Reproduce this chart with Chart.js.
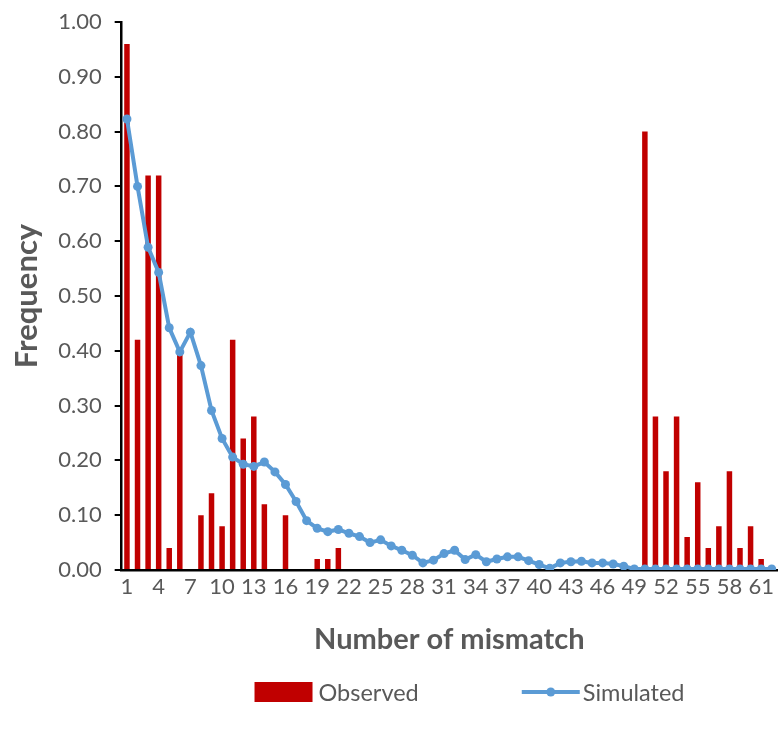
<!DOCTYPE html>
<html>
<head>
<meta charset="utf-8">
<script src="https://cdn.jsdelivr.net/npm/chart.js@4.4.1/dist/chart.umd.min.js"></script>
<style>
  html, body { margin: 0; padding: 0; background: #fff; }
  #wrap { width: 783px; height: 740px; }
</style>
</head>
<body>
<div id="wrap"><canvas id="myChart"></canvas></div>
<script>
// mismatch counts 1..62
var mismatch = [];
for (var i = 1; i <= 62; i++) mismatch.push(String(i));

var observed = [
  0.96, 0.42, 0.72, 0.72, 0.04, 0.40, 0, 0.10, 0.14, 0.08,
  0.42, 0.24, 0.28, 0.12, 0, 0.10, 0, 0, 0.02, 0.02,
  0.04, 0, 0, 0, 0, 0, 0, 0, 0, 0,
  0, 0, 0, 0, 0, 0, 0, 0, 0, 0,
  0, 0, 0, 0, 0, 0, 0, 0, 0, 0.80,
  0.28, 0.18, 0.28, 0.06, 0.16, 0.04, 0.08, 0.18, 0.04, 0.08,
  0.02, 0
];

var simulated = [
  0.823, 0.700, 0.589, 0.543, 0.442, 0.398, 0.434, 0.373, 0.291, 0.240,
  0.206, 0.193, 0.189, 0.197, 0.179, 0.156, 0.125, 0.090, 0.076, 0.070,
  0.074, 0.067, 0.061, 0.050, 0.055, 0.044, 0.036, 0.027, 0.013, 0.018,
  0.030, 0.036, 0.019, 0.028, 0.015, 0.020, 0.024, 0.024, 0.017, 0.010,
  0.003, 0.013, 0.015, 0.016, 0.013, 0.013, 0.011, 0.007, 0.002, 0.002,
  0.002, 0.002, 0.002, 0.002, 0.002, 0.002, 0.002, 0.002, 0.002, 0.002,
  0.002, 0.002
];

var yTicks = [0, 0.1, 0.2, 0.3, 0.4, 0.5, 0.6, 0.7, 0.8, 0.9, 1.0];

var red = '#C00000';
var blue = '#5B9BD5';
var grey = '#595959';
var fontFam = 'Lato, "Open Sans", sans-serif';

// legend drawn by hand so the line entry gets its dot
var bottomLegend = {
  id: 'bottomLegend',
  afterDraw: function (chart) {
    var ctx = chart.ctx;
    var items = [
      { text: 'Observed', type: 'bar', gap: 6 },
      { text: 'Simulated', type: 'line', gap: 3 }
    ];
    var boxW = 58, gapItem = 103;
    ctx.save();
    ctx.font = '23.5px ' + fontFam;
    var total = 0;
    items.forEach(function (it, k) {
      it.w = ctx.measureText(it.text).width;
      total += boxW + it.gap + it.w + (k > 0 ? gapItem : 0);
    });
    var x = chart.width / 2 + 78 - total / 2;
    var y = chart.height - 48;
    items.forEach(function (it, k) {
      if (k > 0) x += gapItem;
      if (it.type === 'bar') {
        ctx.fillStyle = red;
        ctx.fillRect(x, y - 10, boxW, 20);
      } else {
        ctx.strokeStyle = blue;
        ctx.lineWidth = 4;
        ctx.beginPath();
        ctx.moveTo(x, y);
        ctx.lineTo(x + boxW, y);
        ctx.stroke();
        ctx.fillStyle = blue;
        ctx.beginPath();
        ctx.arc(x + boxW / 2, y, 4.5, 0, Math.PI * 2);
        ctx.fill();
      }
      x += boxW + it.gap;
      ctx.fillStyle = grey;
      ctx.textBaseline = 'middle';
      ctx.fillText(it.text, x, y + 1);
      x += it.w;
    });
    ctx.restore();
  }
};

var config = {
  data: {
    labels: mismatch,
    datasets: [
      {
        type: 'bar',
        label: 'Observed',
        data: observed,
        backgroundColor: red,
        barPercentage: 0.52,
        categoryPercentage: 1.0,
        order: 2
      },
      {
        type: 'line',
        label: 'Simulated',
        data: simulated,
        borderColor: blue,
        backgroundColor: blue,
        borderWidth: 4,
        pointRadius: 4.5,
        pointHoverRadius: 4.5,
        pointBackgroundColor: blue,
        pointBorderWidth: 0,
        tension: 0,
        order: 1
      }
    ]
  },
  options: {
    responsive: true,
    maintainAspectRatio: false,
    animation: false,
    layout: { padding: { top: 0, right: 6, left: 8, bottom: 83 } },
    plugins: {
      legend: { display: false },
      tooltip: { enabled: false }
    },
    scales: {
      x: {
        offset: true,
        grid: { display: false, drawTicks: false },
        border: { display: true, color: '#000', width: 2.5 },
        afterFit: function (axis) { axis.height = 87; },
        ticks: {
          autoSkip: false,
          maxRotation: 0,
          minRotation: 0,
          padding: 4,
          color: grey,
          font: { family: fontFam, size: 22 },
          callback: function (val, idx) {
            return idx % 3 === 0 ? mismatch[idx] : '';
          }
        },
        title: {
          display: true,
          text: 'Number of mismatch',
          color: grey,
          font: { family: fontFam, size: 29, weight: 'bold' },
          padding: { top: 0, bottom: 0 }
        }
      },
      y: {
        min: 0,
        max: 1,
        afterBuildTicks: function (axis) {
          axis.ticks = yTicks.map(function (v) { return { value: v }; });
        },
        afterFit: function (axis) { axis.paddingTop = 22; },
        grid: {
          drawOnChartArea: false,
          drawTicks: true,
          tickLength: 7,
          color: '#000',
          lineWidth: 2
        },
        border: { display: true, color: '#000', width: 2.5 },
        ticks: {
          padding: 13,
          color: grey,
          font: { family: fontFam, size: 22 },
          callback: function (v) { return Number(v).toFixed(2); }
        },
        title: {
          display: true,
          text: 'Frequency',
          color: grey,
          font: { family: fontFam, size: 31, weight: 'bold' },
          padding: { top: 0, bottom: 0 }
        }
      }
    }
  },
  plugins: [bottomLegend]
};

var myChart = new Chart(document.getElementById('myChart'), config);
</script>
</body>
</html>
